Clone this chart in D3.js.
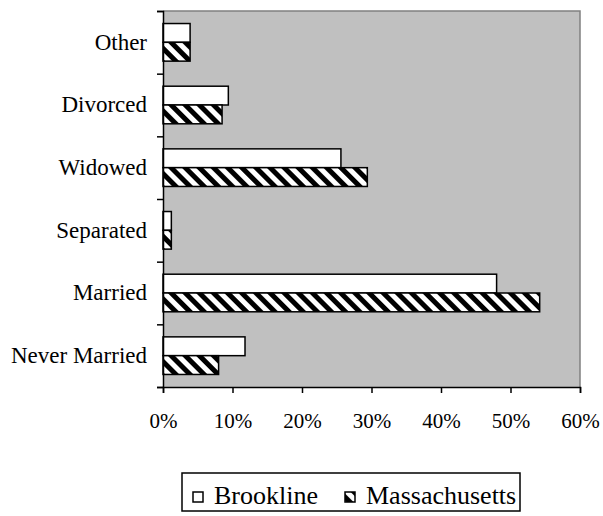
<!DOCTYPE html>
<html>
<head>
<meta charset="utf-8">
<script src="https://cdn.jsdelivr.net/npm/d3@7"></script>
<style>
  body { margin: 0; background: #fff; }
  svg text { font-family: "Liberation Serif", "Times New Roman", serif; fill: #000; }
</style>
</head>
<body>
<div id="chart"></div>
<script>
// data (share of population, %)
var categories = ["Other", "Divorced", "Widowed", "Separated", "Married", "Never Married"];
var seriesNames = ["Brookline", "Massachusetts"];
var brookline = [3.9, 9.4, 25.6, 1.2, 48.0, 11.8];
var massachusetts = [3.9, 8.5, 29.4, 1.2, 54.2, 8.0];
var xTicks = [0, 10, 20, 30, 40, 50, 60];

var W = 603, H = 516;
var margin = {top: 11, right: 23, bottom: 129, left: 163},
    width = W - margin.left - margin.right,
    height = H - margin.top - margin.bottom;

var svg = d3.select("#chart")
  .append("svg")
    .attr("width", W)
    .attr("height", H);

// diagonal hatch for Massachusetts
svg.append("defs")
  .append("pattern")
    .attr("id", "hatch")
    .attr("patternUnits", "userSpaceOnUse")
    .attr("width", 10)
    .attr("height", 10)
    .attr("patternTransform", "rotate(-45)")
  .call(function (p) {
    p.append("rect").attr("width", 10).attr("height", 10).attr("fill", "#fff");
    p.append("rect").attr("width", 5).attr("height", 10).attr("fill", "#000");
  });

var g = svg.append("g")
    .attr("transform", "translate(" + margin.left + "," + margin.top + ")");

var x = d3.scaleLinear().domain([0, 60]).range([0, width]);
var y = d3.scaleBand().domain(categories).range([0, height])
    .paddingInner(0.4).paddingOuter(0.2);
var y1 = d3.scaleBand().domain(seriesNames).range([0, y.bandwidth()]);
var yEdge = d3.scaleLinear().domain([0, categories.length]).range([0, height]);

// plot area
g.append("rect")
  .attr("width", width)
  .attr("height", height)
  .attr("fill", "#c0c0c0");
g.append("path")
  .attr("d", "M0,0H" + width + "V" + height)
  .attr("fill", "none")
  .attr("stroke", "#808080")
  .attr("stroke-width", 1.5);

// bars
var rows = categories.map(function (c, i) {
  return {cat: c, vals: [brookline[i], massachusetts[i]]};
});
var groups = g.selectAll(".grp")
  .data(rows)
  .enter()
  .append("g")
    .attr("transform", d => "translate(0," + y(d.cat) + ")");
groups.selectAll("rect")
  .data(d => d.vals.map((v, k) => ({name: seriesNames[k], v: v})))
  .enter()
  .append("rect")
    .attr("x", 0)
    .attr("y", d => y1(d.name))
    .attr("width", d => x(d.v))
    .attr("height", y1.bandwidth())
    .attr("fill", d => d.name == "Brookline" ? "#fff" : "url(#hatch)")
    .attr("stroke", "#000")
    .attr("stroke-width", 1.5);

// y axis: boundary ticks + category labels
g.append("g")
  .call(d3.axisLeft(yEdge).ticks(categories.length).tickSize(6).tickFormat(""))
  .call(a => a.selectAll("line,path").attr("stroke", "#000").attr("stroke-width", 1.5));
g.append("g")
  .call(d3.axisLeft(y).tickSize(0).tickPadding(16))
  .call(a => a.select(".domain").remove())
  .attr("font-family", "Liberation Serif")
  .attr("font-size", 23);

// x axis
g.append("g")
  .attr("transform", "translate(0," + height + ")")
  .call(d3.axisBottom(x).tickValues(xTicks).tickSize(6).tickPadding(20).tickFormat(d => d + "%"))
  .call(a => a.selectAll("line,path").attr("stroke", "#000").attr("stroke-width", 1.5))
  .attr("font-family", "Liberation Serif")
  .attr("font-size", 21);

// legend
var leg = svg.append("g");
leg.append("rect")
  .attr("x", 182).attr("y", 473)
  .attr("width", 338).attr("height", 38)
  .attr("fill", "#fff")
  .attr("stroke", "#000")
  .attr("stroke-width", 1.5);
var legX = [193, 345];
seriesNames.forEach(function (s, i) {
  leg.append("rect")
    .attr("x", legX[i]).attr("y", 492)
    .attr("width", 10).attr("height", 10)
    .attr("fill", i == 0 ? "#fff" : "url(#hatch)")
    .attr("stroke", "#000")
    .attr("stroke-width", 1.5);
  leg.append("text")
    .attr("x", legX[i] + 21).attr("y", 504)
    .attr("font-family", "Liberation Serif")
    .style("font-size", "26px")
    .text(s);
});
</script>
</body>
</html>
